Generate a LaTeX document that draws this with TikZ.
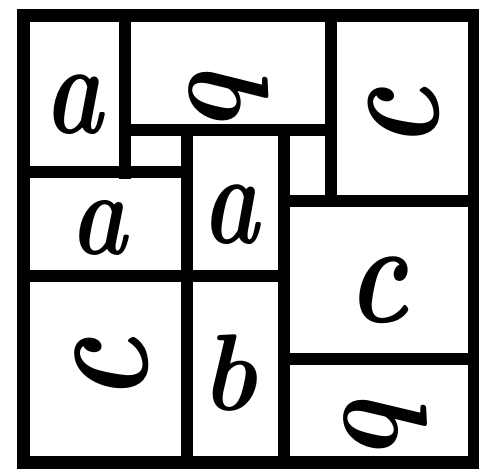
\documentclass[tikz,border=0pt]{standalone}
\usepackage{graphicx}
\begin{document}
\begin{tikzpicture}[x=1pt,y=1pt,
  wall/.style={line width=12pt, line cap=rect},
  letter/.style={font=\fontsize{104}{104}\selectfont\bfseries\itshape, inner sep=0pt}]
\useasboundingbox (0,0) rectangle (479,470);
\fill[white] (0,0) rectangle (479,470);
% outer frame
\draw[wall, line width=13pt] (23,454) rectangle (474,7);
% inner walls
\draw[wall] (125,454) -- (125,297);
\draw[wall] (125,340) -- (331,340);
\draw[wall] (331,454) -- (331,269);
\draw[wall] (23,298) -- (187,298);
\draw[wall] (187,340) -- (187,7);
\draw[wall] (284,340) -- (284,7);
\draw[wall] (284,269) -- (474,269);
\draw[wall] (23,194) -- (284,194);
\draw[wall] (284,111) -- (474,111);
% letters
\node[letter] (a1) at (74,365) {\scalebox{0.95}[1.25]{a}};
\node[letter, rotate=-90] (b1) at (229,380) {\scalebox{1.1}[1.1]{b}};
\node[letter, rotate=90] (c1) at (404,352) {\scalebox{1.1}[1.5]{c}};
\node[letter] (a2) at (99,242) {\scalebox{0.92}[1.15]{a}};
\node[letter] (a3) at (231,255) {\scalebox{0.92}[1.25]{a}};
\node[letter] (c2) at (378,180) {\scalebox{1.1}[1.4]{c}};
\node[letter, rotate=90] (c3) at (112,100) {\scalebox{1.15}[1.55]{c}};
\node[letter] (b2) at (229,97) {\scalebox{1}[1.05]{b}};
\node[letter, rotate=-90] (b3) at (386,52) {\scalebox{1.1}[1.15]{b}};
\end{tikzpicture}
\end{document}
